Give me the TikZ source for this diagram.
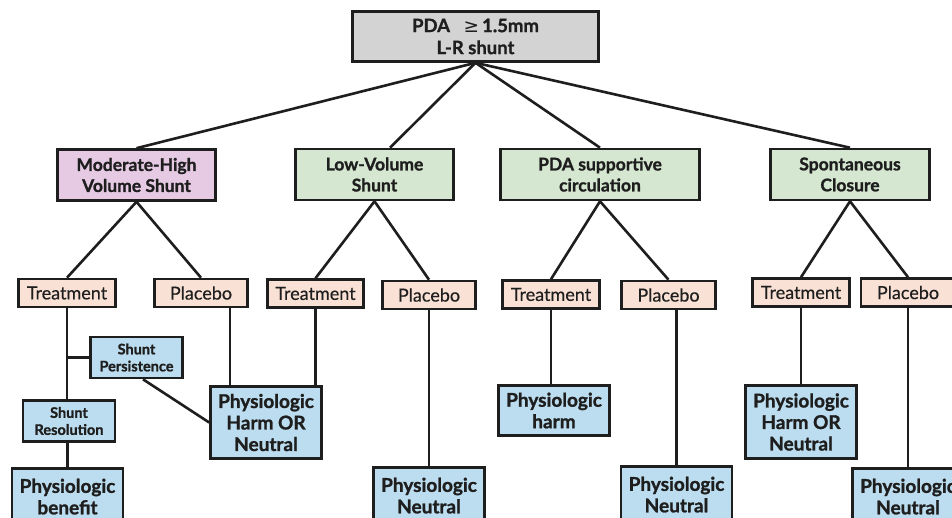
\documentclass[tikz,border=0pt]{standalone}
\usepackage{fontspec}
\setmainfont{Lato}[BoldFeatures={FakeBold=1.2}]
\newfontfamily\symfont{DejaVu Sans}
\newfontfamily\armfont{Lato}[FakeBold=0.4]
\definecolor{cline}{HTML}{1E1E1E}
\definecolor{cgray}{HTML}{D3D3D3}
\definecolor{cpink}{HTML}{E6CAE4}
\definecolor{cgreen}{HTML}{D5E7D0}
\definecolor{cpeach}{HTML}{F9E2D5}
\definecolor{cblue}{HTML}{BCDDEF}
\begin{document}
\begin{tikzpicture}[x=1pt,y=-1pt,
  bx/.style={draw=cline, line width=2.6pt, align=center, inner sep=0pt, text=cline},
  lk/.style={draw=cline, line width=2.6pt},
  lvtwo/.style={bx, minimum height=51, font=\bfseries\fontsize{17.5}{21}\selectfont},
  arm/.style={bx, fill=cpeach, minimum height=28, minimum width=95, font=\armfont\fontsize{18}{20}\selectfont},
  small/.style={bx, fill=cblue, minimum width=92, minimum height=41, font=\bfseries\fontsize{14.5}{17}\selectfont},
  outc/.style={bx, fill=cblue, minimum width=111, font=\bfseries\fontsize{19}{21.5}\selectfont}]
\useasboundingbox (0,0) rectangle (952,517);
\clip (0,0) rectangle (952,517);
\fill[white] (0,0) rectangle (952,517);
% top
\node[bx, fill=cgray, minimum width=246, minimum height=50, font=\bfseries\fontsize{18.5}{22}\selectfont] (top) at (475.5,36.5) {PDA\ \ \ {\symfont\mdseries ≥}\,1.5mm\\L-R shunt};
% level 2
\node[lvtwo, fill=cpink, minimum width=158] (mh) at (136.5,175) {Moderate-High\\Volume Shunt};
\node[lvtwo, fill=cgreen, minimum width=158] (lv) at (374.5,174.5) {Low-Volume\\Shunt};
\node[lvtwo, fill=cgreen, minimum width=199] (ps) at (600,174.5) {PDA supportive\\circulation};
\node[lvtwo, fill=cgreen, minimum width=159] (sc) at (850,174.5) {Spontaneous\\Closure};
% level 3
\node[arm, minimum width=97] (t1) at (67,293) {Treatment};
\node[arm, minimum width=93] (p1) at (201,293) {Placebo};
\node[arm, minimum width=96] (t2) at (315.5,293.5) {Treatment};
\node[arm, minimum width=93] (p2) at (429,295) {Placebo};
\node[arm, minimum width=97] (t3) at (551,294.5) {Treatment};
\node[arm, minimum width=94] (p3) at (668.5,295) {Placebo};
\node[arm, minimum width=97] (t4) at (801,292.5) {Treatment};
\node[arm, minimum width=94] (p4) at (908,292.5) {Placebo};
% level 4
\node[small] (sp) at (136.5,357.5) {Shunt\\Persistence};
\node[small] (sr) at (69,421) {Shunt\\Resolution};
\node[outc, minimum height=56, anchor=north] (ben) at (67.5,467.3) {Physiologic\\benefit};
\node[outc, minimum height=72] (h1) at (266,422.5) {Physiologic\\Harm OR\\Neutral};
\node[outc, minimum height=56, anchor=north] (n1) at (429,466.3) {Physiologic\\Neutral};
\node[outc, minimum height=50] (hm) at (554,410.5) {Physiologic\\harm};
\node[outc, minimum height=56, anchor=north] (n2) at (676.5,465.3) {Physiologic\\Neutral};
\node[outc, minimum height=73] (h2) at (801,422) {Physiologic\\Harm OR\\Neutral};
\node[outc, minimum height=56, anchor=north] (n3) at (908,467.3) {Physiologic\\Neutral};
% connectors
\draw[lk] (top.south) -- (mh.north);
\draw[lk] (top.south) -- ([xshift=15.5pt]lv.north);
\draw[lk] (top.south) -- (ps.north);
\draw[lk] (top.south) -- (sc.north);
\draw[lk] (mh.south) -- (t1.north);
\draw[lk] (mh.south) -- (p1.north);
\draw[lk] (lv.south) -- (t2.north);
\draw[lk] (lv.south) -- (p2.north);
\draw[lk] (ps.south) -- (t3.north);
\draw[lk] (ps.south) -- (p3.north);
\draw[lk] (sc.south) -- (t4.north);
\draw[lk] (sc.south) -- (p4.north);
\draw[lk] (t1.south) -- (t1.south |- sr.north);
\draw[lk] (sp.west) -- (sp.west -| t1.south);
\draw[lk] (sr.south -| ben.north) -- (ben.north);
\draw[lk] ([xshift=6.5pt]sp.south) -- (h1.west);
\draw[lk] (h1.north -| 230,0) -- (p1.south -| 230,0);
\draw[lk] (t2.south) -- (t2.south |- h1.north);
\draw[lk] (p2.south -| n1.north) -- (n1.north);
\draw[lk] (t3.south) -- (t3.south |- hm.north);
\draw[lk] (p3.south -| n2.north) -- (n2.north);
\draw[lk] (t4.south) -- (h2.north);
\draw[lk] (p4.south) -- (n3.north);
\end{tikzpicture}
\end{document}
